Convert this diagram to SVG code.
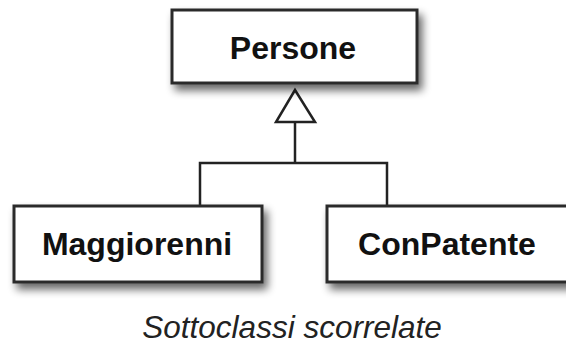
<svg xmlns="http://www.w3.org/2000/svg" width="566" height="347" viewBox="0 0 566 347">
  <style>
    .box { fill: #ffffff; stroke: #2a2a2a; stroke-width: 3; filter: url(#shadow); }
    .label { font-family: "Liberation Sans", Arial, sans-serif; font-size: 32px; font-weight: bold; fill: #111111; text-anchor: middle; }
    .conn { fill: none; stroke: #222222; stroke-width: 2.5; }
    .caption { font-family: "Liberation Sans", Arial, sans-serif; font-style: italic; font-size: 31.5px; fill: #222222; text-anchor: middle; }
  </style>
  <defs>
    <filter id="shadow" x="-20%" y="-30%" width="150%" height="180%">
      <feGaussianBlur in="SourceAlpha" stdDeviation="4"/>
      <feOffset dx="4" dy="6" result="blur"/>
      <feComponentTransfer><feFuncA type="linear" slope="0.6"/></feComponentTransfer>
      <feMerge><feMergeNode/><feMergeNode in="SourceGraphic"/></feMerge>
    </filter>
  </defs>
  <rect width="566" height="347" fill="#ffffff"/>

  <!-- generalisation: hollow triangle plus tree branches -->
  <g id="connectors">
    <polyline class="conn" points="295,122 295,163"/>
    <polyline class="conn" points="200,206 200,163 387,163 387,206"/>
    <polygon class="conn" points="295,90 276,122 315,122" style="fill:#ffffff"/>
  </g>

  <g id="persone">
    <rect class="box" x="172" y="10" width="245" height="73"/>
    <text class="label" x="293" y="59">Persone</text>
  </g>

  <g id="maggiorenni">
    <rect class="box" x="14" y="206" width="248" height="76"/>
    <text class="label" x="137" y="255">Maggiorenni</text>
  </g>

  <g id="conpatente">
    <rect class="box" x="327" y="206" width="245" height="76"/>
    <text class="label" x="447" y="255">ConPatente</text>
  </g>

  <text class="caption" x="292" y="338">Sottoclassi scorrelate</text>
</svg>
